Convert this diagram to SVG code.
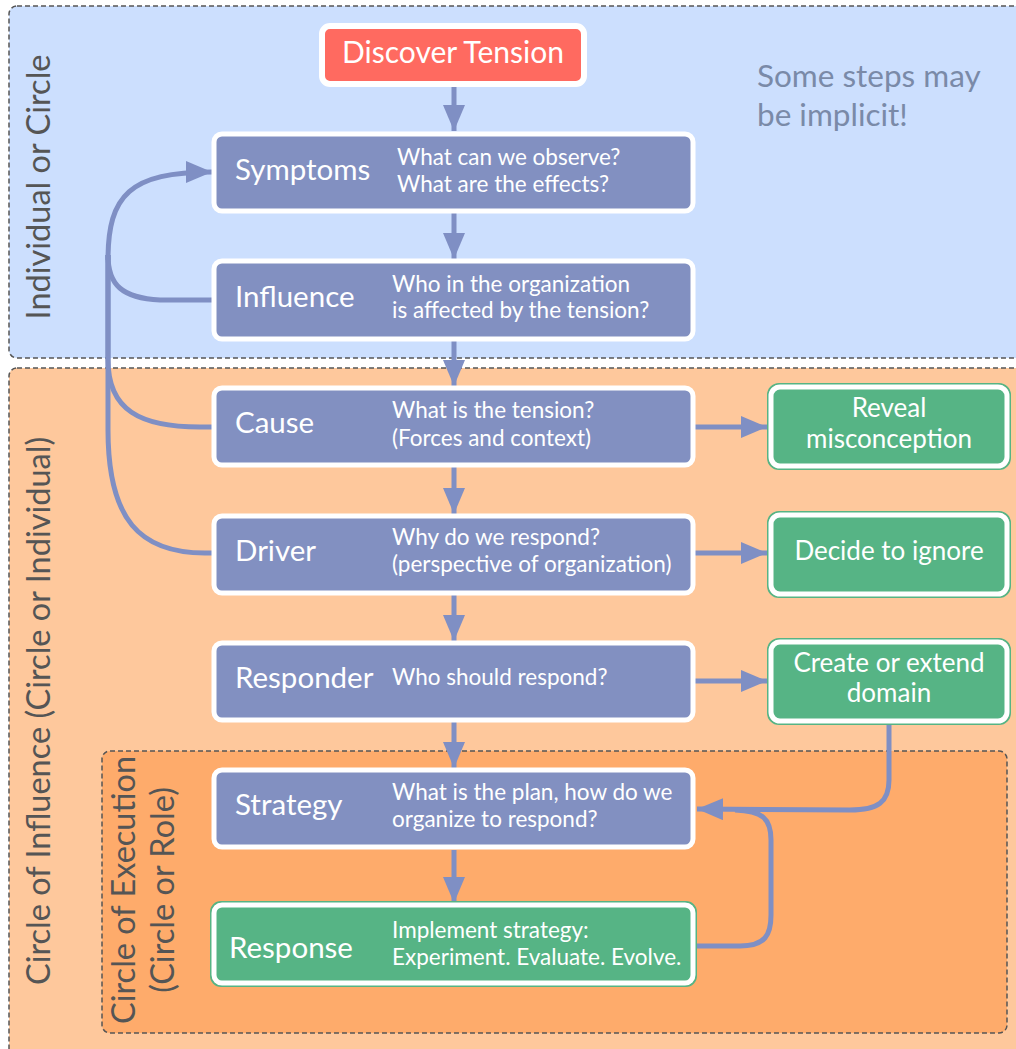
<svg xmlns="http://www.w3.org/2000/svg" width="1016" height="1049" viewBox="0 0 1016 1049">
  <style>
    text { font-family: Lato, "Open Sans", "Liberation Sans", sans-serif; }
    .region { stroke: #555; stroke-width: 1.5; stroke-dasharray: 5 3; }
    .step { fill: #8290C1; stroke: #fff; stroke-width: 5; }
    .ok { fill: #56B485; stroke: #fff; stroke-width: 5; }
    .okline { fill: none; stroke: #56B485; stroke-width: 2; }
    .start { fill: #FF6A60; stroke: #fff; stroke-width: 6; }
    .lbl { fill: #fff; font-size: 29.5px; }
    .desc { fill: #fff; font-size: 22.5px; }
    .side { fill: #fff; font-size: 26px; text-anchor: middle; }
    .vert { fill: #555; font-size: 32.5px; text-anchor: middle; }
    .link { fill: none; stroke: #7F8FC4; stroke-width: 5; }
  </style>
  <defs>
    <marker id="head" markerUnits="userSpaceOnUse" markerWidth="26" markerHeight="22" refX="26" refY="11" orient="auto">
      <path d="M0,0 L26,11 L0,22 Z" fill="#7F8FC4"/>
    </marker>
  </defs>

  <!-- scope regions -->
  <g id="regions">
    <rect class="region" x="9" y="6" width="1030" height="352" rx="8" fill="#CCDFFE"/>
    <rect class="region" x="9" y="368" width="1030" height="700" rx="8" fill="#FEC89C"/>
    <rect class="region" x="102" y="751" width="905" height="282" rx="8" fill="#FEAB6B"/>
    <text class="vert" transform="translate(50,187) rotate(-90)">Individual or Circle</text>
    <text class="vert" transform="translate(50,711) rotate(-90)">Circle of Influence (Circle or Individual)</text>
    <text class="vert" transform="translate(135,890) rotate(-90)">Circle of Execution</text>
    <text class="vert" transform="translate(174,890) rotate(-90)">(Circle or Role)</text>
    <text x="757" y="87" font-size="31.5" fill="#7A8AA8">Some steps may</text>
    <text x="757" y="126" font-size="31.5" fill="#7A8AA8">be implicit!</text>
  </g>

  <!-- connectors -->
  <g id="connectors">
    <path class="link" marker-end="url(#head)" d="M454,87 L454,131"/>
    <path class="link" marker-end="url(#head)" d="M454,213 L454,259"/>
    <path class="link" marker-end="url(#head)" d="M454,341 L454,386"/>
    <path class="link" marker-end="url(#head)" d="M454,467 L454,514"/>
    <path class="link" marker-end="url(#head)" d="M454,595 L454,641"/>
    <path class="link" marker-end="url(#head)" d="M454,722 L454,768"/>
    <path class="link" marker-end="url(#head)" d="M454,850 L454,903"/>
    <path class="link" marker-end="url(#head)" d="M695,427 L767,427"/>
    <path class="link" marker-end="url(#head)" d="M695,553 L767,553"/>
    <path class="link" marker-end="url(#head)" d="M695,681 L767,681"/>
    <!-- feedback loops back to Symptoms -->
    <path class="link" marker-end="url(#head)" d="M108,260 C108,195 130,172 212,172"/>
    <path class="link" d="M212,300 L160,300 C122,298 108,285 108,255"/>
    <path class="link" d="M212,427 L200,427 C140,427 108,410 108,360 L108,255"/>
    <path class="link" d="M212,553 L205,553 C140,553 108,520 108,430 L108,255"/>
    <!-- domain and response loops back to Strategy -->
    <path class="link" marker-end="url(#head)" d="M889,723 L889,780 C889,802 878,810 850,810 L697,809"/>
    <path class="link" d="M697,946 L740,946 C765,946 771,935 771,915 L771,840 C771,818 762,811 735,810"/>
  </g>

  <g id="discover">
    <rect class="start" x="322" y="26" width="262" height="58" rx="8"/>
    <text x="453" y="63" text-anchor="middle" font-size="30" fill="#fff">Discover Tension</text>
  </g>

  <g id="symptoms">
    <rect class="step" x="214" y="134" width="479" height="77" rx="8"/>
    <text class="lbl" x="235" y="180">Symptoms</text>
    <text class="desc" x="397" y="165">What can we observe?</text>
    <text class="desc" x="397" y="192">What are the effects?</text>
  </g>

  <g id="influence">
    <rect class="step" x="214" y="261" width="479" height="78" rx="8"/>
    <text class="lbl" x="235" y="307">Influence</text>
    <text class="desc" x="392" y="292">Who in the organization</text>
    <text class="desc" x="392" y="318">is affected by the tension?</text>
  </g>

  <g id="cause">
    <rect class="step" x="214" y="388" width="479" height="77" rx="8"/>
    <text class="lbl" x="235" y="433">Cause</text>
    <text class="desc" x="392" y="418">What is the tension?</text>
    <text class="desc" x="392" y="446">(Forces and context)</text>
  </g>

  <g id="driver">
    <rect class="step" x="214" y="516" width="479" height="77" rx="8"/>
    <text class="lbl" x="235" y="561">Driver</text>
    <text class="desc" x="392" y="545">Why do we respond?</text>
    <text class="desc" x="392" y="572">(perspective of organization)</text>
  </g>

  <g id="responder">
    <rect class="step" x="214" y="643" width="479" height="77" rx="8"/>
    <text class="lbl" x="235" y="688">Responder</text>
    <text class="desc" x="392" y="685">Who should respond?</text>
  </g>

  <g id="strategy">
    <rect class="step" x="214" y="770" width="479" height="77" rx="8"/>
    <text class="lbl" x="235" y="815">Strategy</text>
    <text class="desc" x="392" y="800">What is the plan, how do we</text>
    <text class="desc" x="392" y="827">organize to respond?</text>
  </g>

  <g id="response">
    <rect class="okline" x="211" y="902" width="485" height="84" rx="10"/>
    <rect class="ok" x="214" y="905" width="479" height="78" rx="8"/>
    <text class="lbl" x="229" y="958">Response</text>
    <text class="desc" x="392" y="938">Implement strategy:</text>
    <text class="desc" x="392" y="965">Experiment. Evaluate. Evolve.</text>
  </g>

  <g id="reveal">
    <rect class="okline" x="768" y="384" width="242" height="85" rx="11"/>
    <rect class="ok" x="771" y="387" width="236" height="79" rx="9"/>
    <text class="side" x="889" y="417">Reveal</text>
    <text class="side" x="889" y="448">misconception</text>
  </g>

  <g id="ignore">
    <rect class="okline" x="768" y="512" width="242" height="85" rx="11"/>
    <rect class="ok" x="771" y="515" width="236" height="79" rx="9"/>
    <text class="side" x="889" y="560">Decide to ignore</text>
  </g>

  <g id="domain">
    <rect class="okline" x="768" y="639" width="242" height="85" rx="11"/>
    <rect class="ok" x="771" y="642" width="236" height="79" rx="9"/>
    <text class="side" x="889" y="672">Create or extend</text>
    <text class="side" x="889" y="702">domain</text>
  </g>
</svg>
